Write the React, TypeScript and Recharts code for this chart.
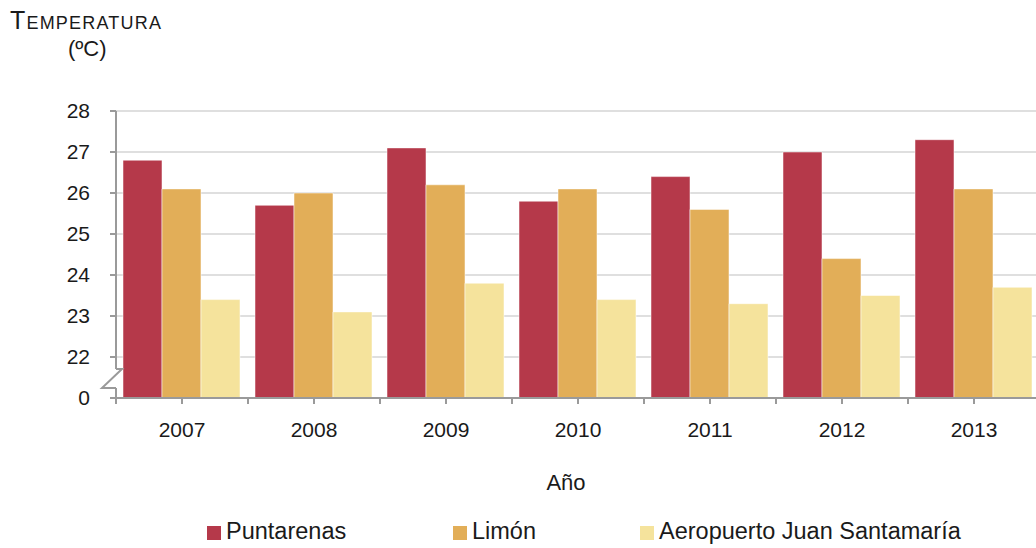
import { Bar, BarChart, CartesianGrid, XAxis, YAxis } from "recharts";

const YEARS = ["2007", "2008", "2009", "2010", "2011", "2012", "2013"];
const PUNTARENAS = [26.8, 25.7, 27.1, 25.8, 26.4, 27.0, 27.3];
const LIMON = [26.1, 26.0, 26.2, 26.1, 25.6, 24.4, 26.1];
const AEROPUERTO = [23.4, 23.1, 23.8, 23.4, 23.3, 23.5, 23.7];
const Y_TICKS = [21, 22, 23, 24, 25, 26, 27, 28];

const SERIES = [
  { key: "puntarenas", name: "Puntarenas", color: "#B5394A" },
  { key: "limon", name: "Limón", color: "#E2AE58" },
  { key: "aeropuerto", name: "Aeropuerto Juan Santamaría", color: "#F5E39C" },
];

const data = YEARS.map((year, i) => ({
  year,
  puntarenas: PUNTARENAS[i],
  limon: LIMON[i],
  aeropuerto: AEROPUERTO[i],
}));

const FONT = "'Liberation Sans', Arial, sans-serif";
const AXIS = "#9a9a9a";
const BAND = 924 / YEARS.length;

// year label plus the extra tick on the left edge of each category
const YearTick = ({ x, y, payload, index }: any) => (
  <g>
    <line x1={x - BAND / 2} x2={x - BAND / 2} y1={y - 24} y2={y - 18} stroke={AXIS} strokeWidth={2} />
    {index === YEARS.length - 1 && (
      <line x1={x + BAND / 2} x2={x + BAND / 2} y1={y - 24} y2={y - 18} stroke={AXIS} strokeWidth={2} />
    )}
    <text x={x} y={y} dy="0.71em" textAnchor="middle" fill="#1a1a1a" fontSize={21} fontFamily={FONT}>
      {payload.value}
    </text>
  </g>
);

export default function App() {
  return (
    <div style={{ position: "absolute", left: 0, top: 0, width: 1036, height: 548, overflow: "hidden", background: "#fff", fontFamily: FONT, color: "#1a1a1a" }}>
      <div style={{ position: "absolute", left: 10, top: 6, fontSize: 25, fontVariant: "small-caps", letterSpacing: 1.2 }}>Temperatura</div>
      <div style={{ position: "absolute", left: 68, top: 36, fontSize: 22 }}>(ºC)</div>

      <div style={{ position: "absolute", left: 0, top: 0 }}>
        <BarChart
          width={1040}
          height={548}
          data={data}
          margin={{ top: 111, right: 0, bottom: 0, left: 0 }}
          barCategoryGap={7}
          barGap={0}
        >
          <CartesianGrid vertical={false} stroke="#d4d4d4" strokeWidth={1.5} />
          <XAxis
            dataKey="year"
            height={150}
            axisLine={{ stroke: AXIS, strokeWidth: 2 }}
            tickLine={{ stroke: AXIS, strokeWidth: 2 }}
            tickSize={6}
            tickMargin={18}
            tick={<YearTick />}
            interval={0}
          />
          <YAxis
            width={116}
            domain={[21, 28]}
            ticks={Y_TICKS}
            allowDataOverflow
            tickFormatter={(v: number) => (v === 21 ? "0" : String(v))}
            axisLine={{ stroke: AXIS, strokeWidth: 2 }}
            tickLine={{ stroke: AXIS, strokeWidth: 2 }}
            tickSize={6}
            tickMargin={20}
            tick={{ fill: "#1a1a1a", fontSize: 21, fontFamily: FONT }}
          />
          {SERIES.map((s) => (
            <Bar
              key={s.key}
              dataKey={s.key}
              name={s.name}
              fill={s.color}
              stroke="#ffffff"
              strokeOpacity={0.5}
              strokeWidth={1}
              isAnimationActive={false}
            />
          ))}
        </BarChart>
      </div>

      {/* axis break */}
      <svg style={{ position: "absolute", left: 0, top: 0 }} width={140} height={420}>
        <rect x={112} y={369} width={9} height={19} fill="#fff" />
        <polyline points="116,369 122,369 102,388 116,388" fill="none" stroke={AXIS} strokeWidth={2} />
      </svg>

      <div style={{ position: "absolute", left: 0, width: 1132, top: 470, textAlign: "center", fontSize: 22 }}>Año</div>

      {SERIES.map((s, i) => {
        const left = [207, 453, 640][i];
        return (
          <div key={s.key} style={{ position: "absolute", left, top: 518, display: "flex", alignItems: "center", fontSize: 23.5, whiteSpace: "nowrap" }}>
            <span style={{ display: "inline-block", width: 14, height: 14, background: s.color, marginRight: 5, marginTop: 3 }} />
            {s.name}
          </div>
        );
      })}
    </div>
  );
}
